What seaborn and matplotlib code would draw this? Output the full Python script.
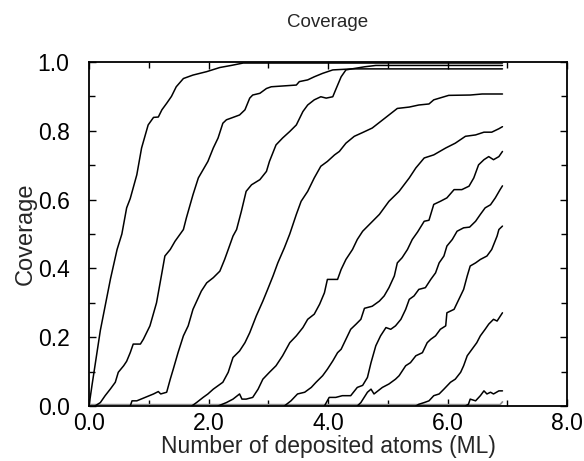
import numpy as np
import pandas as pd
import matplotlib.pyplot as plt
import seaborn as sns
from matplotlib.ticker import MultipleLocator, FormatStrFormatter

# ------------------------------------------------------------
# coverage vs deposited atoms, one curve per run
# ------------------------------------------------------------
cov1_x = [0.0, 0.05, 0.19, 0.36, 0.47, 0.55, 0.63, 0.69, 0.80, 0.88, 0.99, 1.08, 1.16, 1.22,
          1.30, 1.38, 1.46, 1.58, 1.74, 1.97, 2.19, 2.38, 2.58, 2.80, 6.92]
cov1_y = [0.0, 0.06, 0.22, 0.37, 0.455, 0.50, 0.576, 0.603, 0.672, 0.75, 0.817, 0.839, 0.84, 0.861,
          0.88, 0.90, 0.928, 0.952, 0.962, 0.972, 0.984, 0.99, 0.997, 0.997, 0.997]

cov2_x = [0.10, 0.19, 0.27, 0.36, 0.44, 0.49, 0.58, 0.63, 0.69, 0.74, 0.86, 0.91, 1.02, 1.13,
          1.22, 1.27, 1.36, 1.44, 1.58, 1.63, 1.74, 1.83, 1.91, 1.99, 2.08, 2.16, 2.24, 2.30,
          2.38, 2.52, 2.61, 2.69, 2.74, 2.86, 2.97, 3.05, 3.47, 3.52, 3.66, 3.77, 3.91, 4.08,
          4.40, 4.61, 4.80, 6.92]
cov2_y = [0.0, 0.01, 0.03, 0.05, 0.069, 0.098, 0.117, 0.13, 0.155, 0.18, 0.18, 0.194, 0.233, 0.30,
          0.387, 0.436, 0.455, 0.479, 0.513, 0.547, 0.614, 0.663, 0.687, 0.711, 0.75, 0.779, 0.822, 0.832,
          0.837, 0.846, 0.861, 0.895, 0.904, 0.909, 0.923, 0.928, 0.933, 0.943, 0.948, 0.957, 0.967, 0.977,
          0.98, 0.986, 0.99, 0.99]

cov3_x = [0.69, 0.72, 0.80, 0.94, 1.08, 1.16, 1.20, 1.30, 1.36, 1.41, 1.49, 1.58, 1.66, 1.74,
          1.88, 1.97, 2.08, 2.19, 2.27, 2.33, 2.41, 2.47, 2.55, 2.63, 2.72, 2.86, 2.97, 3.02,
          3.13, 3.24, 3.36, 3.47, 3.58, 3.66, 3.77, 3.88, 3.97, 4.08, 4.13, 4.22, 4.30, 4.40, 6.92]
cov3_y = [0.0, 0.015, 0.015, 0.025, 0.035, 0.042, 0.035, 0.04, 0.078, 0.107, 0.155, 0.204, 0.233, 0.281,
          0.334, 0.358, 0.373, 0.392, 0.426, 0.455, 0.494, 0.513, 0.566, 0.624, 0.643, 0.658, 0.682, 0.711,
          0.759, 0.779, 0.798, 0.817, 0.856, 0.875, 0.89, 0.899, 0.895, 0.899, 0.92, 0.957, 0.977, 0.98, 0.98]

cov4_x = [1.72, 1.80, 1.91, 1.99, 2.08, 2.16, 2.24, 2.33, 2.41, 2.52, 2.61, 2.69, 2.80, 2.91,
          2.99, 3.08, 3.16, 3.27, 3.36, 3.47, 3.55, 3.66, 3.77, 3.88, 3.99, 4.11, 4.19, 4.30,
          4.44, 4.58, 4.74, 4.88, 5.02, 5.16, 5.36, 5.52, 5.69, 5.77, 6.02, 6.38, 6.58, 6.92]
cov4_y = [0.0, 0.01, 0.025, 0.035, 0.049, 0.059, 0.069, 0.098, 0.141, 0.16, 0.184, 0.213, 0.262, 0.305,
          0.339, 0.378, 0.416, 0.46, 0.50, 0.557, 0.595, 0.624, 0.663, 0.697, 0.711, 0.73, 0.74, 0.764,
          0.784, 0.795, 0.808, 0.827, 0.846, 0.865, 0.869, 0.875, 0.878, 0.89, 0.903, 0.904, 0.907, 0.907]

cov5_x = [2.16, 2.30, 2.41, 2.52, 2.56, 2.63, 2.74, 2.83, 2.91, 3.02, 3.13, 3.24, 3.36, 3.47,
          3.58, 3.66, 3.77, 3.86, 3.94, 3.99, 4.16, 4.22, 4.30, 4.41, 4.49, 4.58, 4.86, 5.02,
          5.19, 5.36, 5.47, 5.61, 5.77, 5.97, 6.13, 6.30, 6.47, 6.61, 6.74, 6.86, 6.92]
cov5_y = [0.0, 0.01, 0.02, 0.035, 0.02, 0.02, 0.025, 0.049, 0.078, 0.098, 0.117, 0.146, 0.184, 0.204,
          0.228, 0.252, 0.267, 0.296, 0.329, 0.368, 0.368, 0.397, 0.426, 0.455, 0.484, 0.508, 0.557, 0.595,
          0.624, 0.663, 0.692, 0.721, 0.73, 0.75, 0.764, 0.784, 0.788, 0.796, 0.796, 0.806, 0.812]

cov6_x = [3.27, 3.38, 3.49, 3.61, 3.72, 3.80, 3.91, 3.99, 4.08, 4.16, 4.22, 4.30, 4.38, 4.47,
          4.55, 4.61, 4.74, 4.86, 4.94, 5.02, 5.11, 5.16, 5.24, 5.33, 5.41, 5.50, 5.61, 5.69,
          5.77, 5.88, 5.99, 6.11, 6.24, 6.36, 6.44, 6.52, 6.61, 6.69, 6.77, 6.86, 6.92]
cov6_y = [0.0, 0.015, 0.035, 0.04, 0.054, 0.069, 0.088, 0.107, 0.131, 0.155, 0.165, 0.194, 0.223, 0.238,
          0.252, 0.284, 0.29, 0.305, 0.32, 0.344, 0.378, 0.416, 0.431, 0.455, 0.484, 0.506, 0.537, 0.54,
          0.586, 0.595, 0.605, 0.629, 0.629, 0.639, 0.663, 0.701, 0.716, 0.725, 0.716, 0.725, 0.74]

cov7_x = [3.94, 4.02, 4.13, 4.24, 4.38, 4.49, 4.58, 4.66, 4.72, 4.80, 4.88, 4.97, 5.05, 5.13,
          5.22, 5.30, 5.36, 5.44, 5.52, 5.63, 5.72, 5.80, 5.86, 5.94, 5.99, 6.08, 6.16, 6.27,
          6.37, 6.47, 6.55, 6.63, 6.72, 6.80, 6.88, 6.92]
cov7_y = [0.0, 0.025, 0.025, 0.03, 0.03, 0.054, 0.06, 0.083, 0.126, 0.175, 0.204, 0.228, 0.223, 0.233,
          0.252, 0.281, 0.31, 0.32, 0.339, 0.344, 0.368, 0.387, 0.416, 0.436, 0.465, 0.484, 0.508, 0.518,
          0.52, 0.537, 0.557, 0.576, 0.585, 0.605, 0.629, 0.64]

cov8_x = [4.49, 4.55, 4.66, 4.72, 4.77, 4.91, 5.02, 5.13, 5.19, 5.30, 5.38, 5.47, 5.58, 5.66,
          5.72, 5.80, 5.88, 5.97, 5.99, 6.11, 6.19, 6.27, 6.33, 6.38, 6.47, 6.55, 6.66, 6.74,
          6.83, 6.86, 6.92]
cov8_y = [0.0, 0.01, 0.04, 0.049, 0.035, 0.054, 0.064, 0.078, 0.088, 0.117, 0.126, 0.146, 0.155, 0.184,
          0.194, 0.204, 0.223, 0.233, 0.271, 0.281, 0.31, 0.339, 0.378, 0.407, 0.416, 0.426, 0.436, 0.455,
          0.494, 0.513, 0.523]

cov9_x = [5.47, 5.52, 5.61, 5.69, 5.77, 5.86, 5.94, 6.05, 6.13, 6.22, 6.27, 6.33, 6.41, 6.49,
          6.55, 6.63, 6.69, 6.77, 6.83, 6.92]
cov9_y = [0.0, 0.005, 0.01, 0.015, 0.03, 0.035, 0.049, 0.069, 0.078, 0.098, 0.117, 0.146, 0.165, 0.184,
          0.204, 0.223, 0.238, 0.252, 0.247, 0.271]

cov10_x = [6.30, 6.35, 6.38, 6.47, 6.55, 6.61, 6.66, 6.72, 6.77, 6.86, 6.92]
cov10_y = [0.0, 0.005, 0.02, 0.015, 0.03, 0.044, 0.035, 0.04, 0.035, 0.044, 0.044]

# nearly empty run, sits on the axis
base_x = [0.0, 6.88, 6.92]
base_y = [0.004, 0.004, 0.012]

runs = [(cov1_x, cov1_y), (cov2_x, cov2_y), (cov3_x, cov3_y), (cov4_x, cov4_y),
        (cov5_x, cov5_y), (cov6_x, cov6_y), (cov7_x, cov7_y), (cov8_x, cov8_y),
        (cov9_x, cov9_y), (cov10_x, cov10_y)]

df = pd.concat([pd.DataFrame({'ml': xs, 'coverage': ys, 'run': i})
                for i, (xs, ys) in enumerate(runs)], ignore_index=True)
df_base = pd.DataFrame({'ml': base_x, 'coverage': base_y, 'run': 99})

# ------------------------------------------------------------
# plot
# ------------------------------------------------------------
sns.set_style('ticks')
plt.rcParams['font.family'] = ['Liberation Sans', 'DejaVu Sans']

fig = plt.figure(figsize=(5.84, 4.61), dpi=100)
ax = fig.add_axes([89 / 584, 55 / 461, (567 - 89) / 584, (406 - 62) / 461])

sns.lineplot(data=df_base, x='ml', y='coverage', units='run', estimator=None,
             color='0.55', lw=1.2, ax=ax)
sns.lineplot(data=df, x='ml', y='coverage', units='run', estimator=None,
             color='black', lw=1.1, ax=ax)

ax.set_xlim(0, 8)
ax.set_ylim(0, 1)
ax.xaxis.set_major_locator(MultipleLocator(2))
ax.xaxis.set_minor_locator(MultipleLocator(1))
ax.yaxis.set_major_locator(MultipleLocator(0.2))
ax.yaxis.set_minor_locator(MultipleLocator(0.1))
ax.xaxis.set_major_formatter(FormatStrFormatter('%.1f'))
ax.yaxis.set_major_formatter(FormatStrFormatter('%.1f'))
ax.tick_params(which='both', direction='in', top=True, right=True, colors='black')
ax.tick_params(which='major', length=5, width=1, labelsize=16.5)
ax.tick_params(axis='x', which='major', pad=4)
ax.tick_params(axis='y', which='major', pad=14)
ax.tick_params(which='minor', length=4, width=1)
for sp in ax.spines.values():
    sp.set_color('black')
    sp.set_linewidth(1.3)

ax.set_title('Coverage', fontsize=13.5, pad=25)
ax.set_xlabel('Number of deposited atoms (ML)', fontsize=16.5, labelpad=0)
ax.set_ylabel('Coverage', fontsize=17, labelpad=1)

fig.savefig('out.png', dpi=100)
